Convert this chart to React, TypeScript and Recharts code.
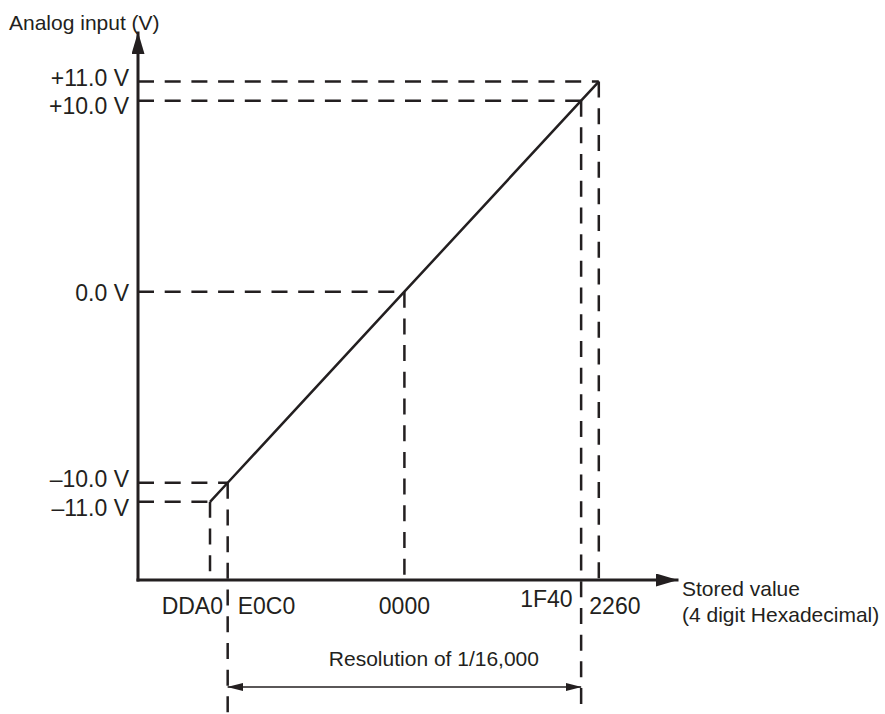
import React from 'react';
import { LineChart, Line, XAxis, YAxis, ReferenceLine } from 'recharts';

// ---------- data ----------
const hexLabels = ['DDA0', 'E0C0', '0000', '1F40', '2260'];
const storedValues = [-8800, -8000, 0, 8000, 8800]; // decimal value of the 4-digit hex codes
const voltages = [-11, -10, 0, 10, 11];
const voltageLabels = ['\u201311.0 V', '\u201310.0 V', '0.0 V', '+10.0 V', '+11.0 V'];
const resolutionRange = [-8000, 8000];
const resolutionText = 'Resolution of 1/16,000';
const yTitle = 'Analog input (V)';
const xTitleLines = ['Stored value', '(4 digit Hexadecimal)'];

const data = storedValues.map((x, i) => ({ x, v: voltages[i] }));

// ---------- layout / style ----------
const W = 885;
const H = 714;
const X_DOMAIN: [number, number] = [-12060, 12340];
const Y_DOMAIN: [number, number] = [-15.09, 13.54];
const Y_EXTEND = -22.5; // dashed guides running off the bottom
const Y_ARROW = -20.69; // level of the resolution arrow
const INK = '#231f20';
const FONT = '"Liberation Sans", Arial, Helvetica, sans-serif';
const TICK_FONT = 23;
const TITLE_FONT = 21;
const DASH = '16 10.7';

const xTickLayout: Record<string, { anchor: 'start' | 'middle' | 'end'; dx: number; dy: number }> = {
  DDA0: { anchor: 'end', dx: 13, dy: 0 },
  E0C0: { anchor: 'start', dx: 10, dy: 0 },
  '0000': { anchor: 'middle', dx: 0, dy: 0 },
  '1F40': { anchor: 'end', dx: -8.5, dy: -6.8 },
  '2260': { anchor: 'start', dx: -9.5, dy: 0 },
};
// small vertical nudges that keep the closely spaced voltage labels apart
const yTickNudge: Record<string, number> = { '11': -4.5, '10': 4.5, '0': 0, '-10': -4.5, '-11': 4.5 };

const Markers = () => (
  <svg width={0} height={0} style={{ position: 'absolute', left: 0, top: 0 }} aria-hidden="true">
    <defs>
      <marker
        id="axisArrow"
        viewBox="0 0 22 13"
        refX={21}
        refY={6.5}
        markerWidth={22}
        markerHeight={13}
        markerUnits="userSpaceOnUse"
        orient="auto-start-reverse"
      >
        <path d="M0,0 L22,6.5 L0,13 Z" fill={INK} />
      </marker>
      <marker
        id="resArrow"
        viewBox="0 0 16 8"
        refX={15.5}
        refY={4}
        markerWidth={16}
        markerHeight={8}
        markerUnits="userSpaceOnUse"
        orient="auto-start-reverse"
      >
        <path d="M0,0 L16,4 L0,8 Z" fill={INK} />
      </marker>
    </defs>
  </svg>
);

const XTick = (props: any) => {
  const { x, y, payload } = props;
  const idx = storedValues.indexOf(payload.value);
  const label = hexLabels[idx];
  const st = xTickLayout[label];
  return (
    <text
      x={x + st.dx}
      y={y + 33.5 + st.dy}
      textAnchor={st.anchor}
      fill={INK}
      fontSize={TICK_FONT}
      fontFamily={FONT}
    >
      {label}
    </text>
  );
};

const YTick = (props: any) => {
  const { x, y, payload } = props;
  const idx = voltages.indexOf(payload.value);
  const nudge = yTickNudge[String(payload.value)] ?? 0;
  return (
    <text
      x={x}
      y={y + nudge}
      dy="0.4em"
      textAnchor="end"
      fill={INK}
      fontSize={TICK_FONT}
      fontFamily={FONT}
    >
      {voltageLabels[idx]}
    </text>
  );
};

const XTitle = (props: any) => {
  const vb = props.viewBox || {};
  const x = (vb.x ?? 138) + (vb.width ?? 539) + 5;
  const y = vb.y ?? 580;
  return (
    <text fill={INK} fontSize={TITLE_FONT} fontFamily={FONT}>
      <tspan x={x} y={y + 16}>{xTitleLines[0]}</tspan>
      <tspan x={x} y={y + 41.5}>{xTitleLines[1]}</tspan>
    </text>
  );
};

const YTitle = (props: any) => {
  const vb = props.viewBox || {};
  const y = (vb.y ?? 33) - 3;
  return (
    <text x={9} y={y} fill={INK} fontSize={TITLE_FONT} fontFamily={FONT}>
      {yTitle}
    </text>
  );
};

const ResLabel = (props: any) => {
  const vb = props.viewBox || {};
  return (
    <text
      x={vb.x + vb.width / 2 + 29.5}
      y={vb.y - 21.3}
      textAnchor="middle"
      fill={INK}
      fontSize={TITLE_FONT}
      fontFamily={FONT}
    >
      {resolutionText}
    </text>
  );
};

export default function App() {
  return (
    <div style={{ position: 'absolute', left: 0, top: 0, width: W, height: H, background: '#fff' }}>
      <Markers />
      <LineChart width={W} height={H} data={data} margin={{ top: 33, right: 208, bottom: 0, left: 0 }}>
        <XAxis
          dataKey="x"
          type="number"
          domain={X_DOMAIN}
          allowDataOverflow
          ticks={storedValues}
          interval={0}
          tickSize={0}
          tickMargin={0}
          tickLine={false}
          axisLine={{ stroke: INK, strokeWidth: 3, strokeLinecap: 'square', markerEnd: 'url(#axisArrow)' }}
          height={134}
          tick={(p: any) => <XTick {...p} />}
          label={XTitle}
        />
        <YAxis
          type="number"
          domain={Y_DOMAIN}
          allowDataOverflow
          ticks={voltages}
          interval={0}
          tickSize={0}
          tickMargin={9}
          tickLine={false}
          axisLine={{ stroke: INK, strokeWidth: 3, strokeLinecap: 'square', markerStart: 'url(#axisArrow)' }}
          width={138}
          tick={(p: any) => <YTick {...p} />}
          label={YTitle}
        />
        {storedValues.map((xv, i) => (
          <ReferenceLine
            key={`h-${i}`}
            segment={[
              { x: X_DOMAIN[0], y: voltages[i] },
              { x: xv, y: voltages[i] },
            ]}
            ifOverflow="visible"
            stroke={INK}
            strokeWidth={2.5}
            strokeDasharray={DASH}
          />
        ))}
        {storedValues.map((xv, i) => (
          <ReferenceLine
            key={`v-${i}`}
            segment={[
              { x: xv, y: voltages[i] },
              { x: xv, y: resolutionRange.includes(xv) ? Y_EXTEND : Y_DOMAIN[0] },
            ]}
            ifOverflow="visible"
            stroke={INK}
            strokeWidth={2.5}
            strokeDasharray={DASH}
          />
        ))}
        <ReferenceLine
          segment={[
            { x: resolutionRange[0], y: Y_ARROW },
            { x: resolutionRange[1], y: Y_ARROW },
          ]}
          ifOverflow="visible"
          stroke={INK}
          strokeWidth={1.5}
          markerStart="url(#resArrow)"
          markerEnd="url(#resArrow)"
          label={ResLabel}
        />
        <Line
          dataKey="v"
          type="linear"
          stroke={INK}
          strokeWidth={2.5}
          dot={false}
          activeDot={false}
          isAnimationActive={false}
        />
      </LineChart>
    </div>
  );
}
